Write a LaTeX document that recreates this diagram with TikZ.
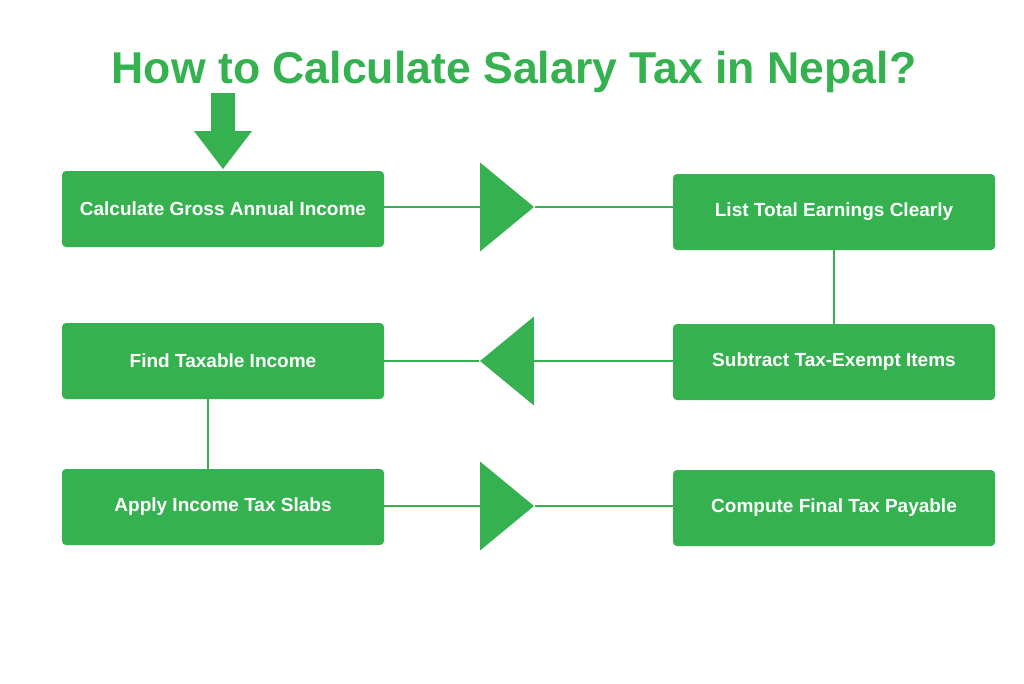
\documentclass[tikz,border=0pt]{standalone}
\usepackage{fontspec}
\setmainfont{Liberation Sans}
\usetikzlibrary{shapes.geometric}
\definecolor{tgreen}{RGB}{53,178,79}
\begin{document}
\begin{tikzpicture}[x=1pt,y=-1pt,
  stepbox/.style={fill=tgreen, rounded corners=4pt, minimum width=322pt, minimum height=76pt, inner sep=0pt, text=white, font=\fontsize{19}{21}\selectfont\bfseries},
  tri/.style={fill=tgreen, isosceles triangle, isosceles triangle stretches, minimum width=89pt, minimum height=54pt, inner sep=0pt, anchor=center},
  link/.style={draw=tgreen, line width=2pt}]
\useasboundingbox (0,0) rectangle (1024,683);
\fill[white] (0,0) rectangle (1024,683);
\node[text=tgreen, font=\fontsize{44.6}{48}\selectfont\bfseries] (title) at (514,72) {How to Calculate Salary Tax in Nepal?};
\node[stepbox] (b1) at (223,209) {Calculate Gross Annual Income};
\node[stepbox] (b2) at (834,212) {List Total Earnings Clearly};
\node[stepbox] (b3) at (834,362) {Subtract Tax-Exempt Items};
\node[stepbox] (b4) at (223,361) {Find Taxable Income};
\node[stepbox] (b5) at (223,507) {Apply Income Tax Slabs};
\node[stepbox] (b6) at (834,508) {Compute Final Tax Payable};
\node[tri, shape border rotate=0] (t1) at (501,207) {};
\node[tri, shape border rotate=180] (t2) at (513,361) {};
\node[tri, shape border rotate=0] (t3) at (501,506) {};
\fill[tgreen] (211,93) -- (235,93) -- (235,131) -- (252,131) -- (223,169) -- (194,131) -- (211,131) -- cycle;
\draw[link] (b1.east |- t1.lower side) -- (t1.lower side);
\draw[link] (t1.apex) -- (b2.west |- t1.apex);
\draw[link] (b2.south) -- (b3.north);
\draw[link] (b3.west |- t2.lower side) -- (t2.lower side);
\draw[link] (t2.apex) -- (b4.east |- t2.apex);
\draw[link] ([xshift=-15pt]b4.south) -- ([xshift=-15pt]b5.north);
\draw[link] (b5.east |- t3.lower side) -- (t3.lower side);
\draw[link] (t3.apex) -- (b6.west |- t3.apex);
\end{tikzpicture}
\end{document}
